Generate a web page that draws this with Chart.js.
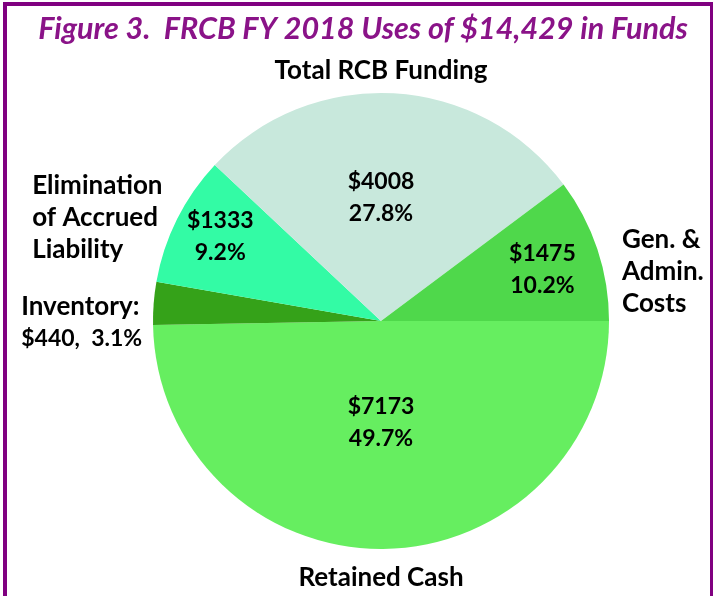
<!DOCTYPE html>
<html>
<head>
<meta charset="utf-8">
<script src="https://cdn.jsdelivr.net/npm/chart.js@4.4.1/dist/chart.umd.min.js"></script>
<style>
  html, body { margin: 0; padding: 0; background: #fff; }
  #wrap { position: relative; width: 715px; height: 596px; }
  #frame { position: absolute; left: 3px; top: 2px; width: 703px; height: 590px;
           border-left: 4px solid #800080; border-top: 4px solid #800080;
           border-right: 3px solid #800080; border-bottom: 2px solid #a050a0; pointer-events: none; }
  canvas { position: absolute; left: 0; top: 0; }
</style>
</head>
<body>
<div id="wrap">
  <canvas id="uses-pie" width="715" height="596"></canvas>
  <div id="frame"></div>
</div>
<script>
// slices go clockwise from 3 o'clock
const categories = ["Retained Cash", "Inventory", "Elimination of Accrued Liability", "Total RCB Funding", "Gen. & Admin. Costs"];
const amounts = [7173, 440, 1333, 4008, 1475];
const percents = ["49.7%", "3.1%", "9.2%", "27.8%", "10.2%"];
const sliceColors = ['#66ee60', '#35a219', '#33fba5', '#c8e8dc', '#4fd84b'];

// outside labels, one line per entry
const outerLines = [
  ["Retained Cash"],
  ["Inventory:", "$" + amounts[1] + ",  " + percents[1]],
  ["Elimination", "of Accrued", "Liability"],
  ["Total RCB Funding"],
  ["Gen. &", "Admin.", "Costs"]
];

// label anchors in units of the pie radius, from its centre
const outerPos = [
  { x: 0, y: 1.125, align: 'center' },
  { x: -1.578, y: 0.005, align: 'left' },
  { x: -1.53, y: -0.455, align: 'left' },
  { x: 0, y: -1.1, align: 'center' },
  { x: 1.057, y: -0.215, align: 'left' }
];
const innerPos = [
  { x: 0, y: 0.445 },
  null,
  { x: -0.705, y: -0.37 },
  { x: 0, y: -0.54 },
  { x: 0.708, y: -0.224 }
];

const labelFont = 'bold 26px Lato, "Open Sans", sans-serif';
const numberFont = 'bold 23px Lato, "Open Sans", sans-serif';
const lineGap = 32;

const pieLabels = {
  id: 'pieLabels',
  afterDraw(chart) {
    const ctx = chart.ctx;
    const arcs = chart.getDatasetMeta(0).data;
    ctx.save();
    // title
    ctx.fillStyle = '#8a1388';
    ctx.font = 'italic bold 30.5px Lato, "Open Sans", sans-serif';
    ctx.textAlign = 'center';
    ctx.textBaseline = 'middle';
    ctx.fillText('Figure 3.  FRCB FY 2018 Uses of $14,429 in Funds', 363, 29);

    ctx.fillStyle = '#000';
    arcs.forEach((arc, i) => {
      const r = arc.outerRadius;
      const o = outerPos[i];
      const lines = outerLines[i];
      ctx.textAlign = o.align;
      const oy = arc.y + o.y * r - (lines.length - 1) * lineGap / 2;
      lines.forEach((t, k) => {
        ctx.font = t.startsWith('$') ? numberFont : labelFont;
        ctx.fillText(t, arc.x + o.x * r, oy + k * lineGap);
      });
      const p = innerPos[i];
      if (p) {
        ctx.font = numberFont;
        ctx.textAlign = 'center';
        const iy = arc.y + p.y * r - lineGap / 2;
        ctx.fillText('$' + amounts[i], arc.x + p.x * r, iy);
        ctx.fillText(percents[i], arc.x + p.x * r, iy + lineGap);
      }
    });
    ctx.restore();
  }
};

const uses_pie_ctx = document.getElementById('uses-pie').getContext('2d');
const usesPieChart = new Chart(uses_pie_ctx, {
  type: 'pie',
  plugins: [pieLabels],
  data: {
    labels: categories,
    datasets: [{
      data: amounts,
      backgroundColor: sliceColors,
      borderWidth: 0
    }]
  },
  options: {
    responsive: false,
    animation: false,
    rotation: 90,
    layout: { padding: { top: 93, bottom: 47, left: 153, right: 106 } },
    plugins: {
      legend: { display: false },
      title: { display: false },
      tooltip: { enabled: false }
    }
  }
});
</script>
</body>
</html>
